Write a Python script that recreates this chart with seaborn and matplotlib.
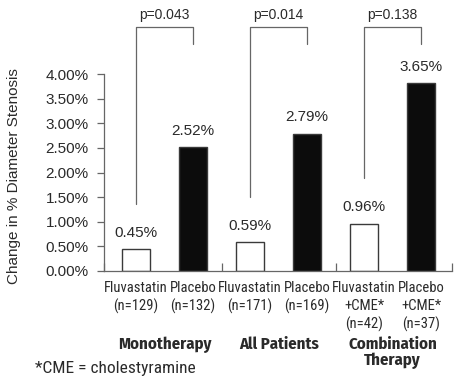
import pandas as pd
import matplotlib
matplotlib.use("Agg")
import matplotlib.pyplot as plt
import seaborn as sns

# Data
arms = ["Fluvastatin\n(n=129)", "Placebo\n(n=132)",
        "Fluvastatin\n(n=171)", "Placebo\n(n=169)",
        "Fluvastatin\n+CME*\n(n=42)", "Placebo\n+CME*\n(n=37)"]
treatment = ["Fluvastatin", "Placebo", "Fluvastatin", "Placebo", "Fluvastatin", "Placebo"]
group = ["Monotherapy", "Monotherapy", "All Patients", "All Patients",
         "Combination\nTherapy", "Combination\nTherapy"]
# bar heights as drawn (the last bar is drawn taller than its printed label)
change = [0.45, 2.52, 0.59, 2.79, 0.96, 3.82]
value_labels = ["0.45%", "2.52%", "0.59%", "2.79%", "0.96%", "3.65%"]
group_names = ["Monotherapy", "All Patients", "Combination\nTherapy"]
p_values = ["p=0.043", "p=0.014", "p=0.138"]
yticks = [0.0, 0.5, 1.0, 1.5, 2.0, 2.5, 3.0, 3.5, 4.0]

df = pd.DataFrame({"arm": arms, "treatment": treatment, "group": group, "change": change})

sns.set_theme(style="white")
plt.rcParams['font.family'] = ['Liberation Sans', 'DejaVu Sans']
narrow = ['Roboto Condensed', 'Liberation Sans', 'DejaVu Sans']
bold_cond = ['Fira Sans Condensed', 'Archivo Narrow', 'Roboto Condensed', 'DejaVu Sans']
ink = "#2a2a2a"
line_col = "#666666"

fig = plt.figure(figsize=(4.63, 3.84), dpi=100)
ax = fig.add_axes([104 / 463, 1 - 271 / 384, 348 / 463, 197 / 384])

sns.barplot(data=df, x="arm", y="change", hue="treatment",
            palette={"Fluvastatin": "white", "Placebo": "#0c0c0c"},
            dodge=False, width=0.49, edgecolor="#3a3a3a", linewidth=1.0,
            legend=False, ax=ax)

ax.set_xlim(-0.56, 5.54)
ax.set_ylim(0, 4.0)
ax.set_yticks(yticks)
ax.set_yticklabels([f"{v:.2f}%" for v in yticks], fontsize=11, color=ink)
ax.tick_params(axis="y", direction="out", length=5, width=0.9, color=line_col, pad=6, left=True)

# x labels: one per bar, no tick marks; small inward ticks at group borders
ax.set_xlabel("")
ax.set_xticks(range(len(arms)))
ax.set_xticklabels(arms, fontsize=10.5, color=ink, family=narrow, linespacing=1.36)
ax.tick_params(axis="x", length=0, pad=7)
sizes = df.groupby("group", sort=False).size().tolist()
borders = [-0.56]
pos = -0.5
for n in sizes[:-1]:
    pos += n
    borders.append(pos)
borders.append(5.54)
ax.set_xticks(borders, minor=True)
ax.tick_params(axis="x", which="minor", direction="in", length=6, width=0.9,
               color=line_col, bottom=True)

ax.set_ylabel("Change in % Diameter Stenosis", fontsize=11, color=ink)
ax.yaxis.set_label_coords(-0.238, 0.48)

for side in ["top", "right"]:
    ax.spines[side].set_visible(False)
for side in ["left", "bottom"]:
    ax.spines[side].set_color(line_col)
    ax.spines[side].set_linewidth(0.9)

# value labels above bars
for i, (v, lab) in enumerate(zip(change, value_labels)):
    ax.text(i, v + 0.33, lab, ha="center", va="center", fontsize=11, color=ink)

# significance brackets and group names
for g in range(len(group_names)):
    i0, i1 = 2 * g, 2 * g + 1
    top = 4.95
    ax.plot([i0, i0, i1, i1], [change[i0] + 0.92, top, top, 4.6],
            color=line_col, lw=0.9, clip_on=False)
    ax.text((i0 + i1) / 2, 5.2, p_values[g], ha="center", va="center",
            fontsize=10, color=ink)
    ax.annotate(group_names[g], xy=((i0 + i1) / 2, 0), xycoords=("data", "axes fraction"),
                xytext=(0, -47), textcoords="offset points", ha="center", va="top",
                fontsize=12, fontweight="bold", color=ink, family=bold_cond,
                linespacing=1.0)

fig.text(35 / 463, 1 - 368 / 384, "*CME = cholestyramine", ha="left", va="center",
         fontsize=12.5, color=ink, family=narrow)

fig.savefig("out.png", dpi=100)
